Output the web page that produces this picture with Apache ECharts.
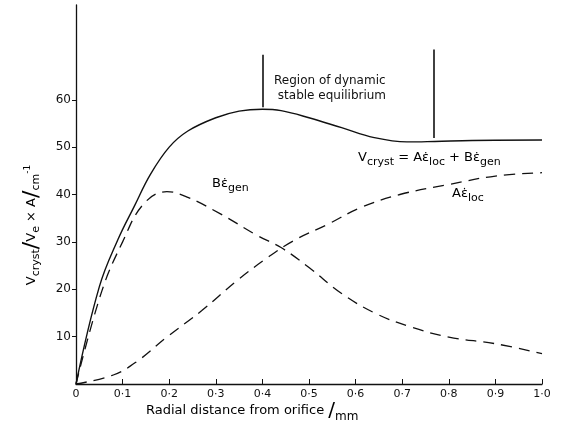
<!DOCTYPE html>
<html>
<head>
<meta charset="utf-8">
<script src="https://cdn.jsdelivr.net/npm/echarts@6/dist/echarts.min.js"></script>
<style>
  html, body { margin: 0; padding: 0; background: #fff; }
  #main { width: 561px; height: 428px; }
</style>
</head>
<body>
<div id="main"></div>
<script>
// total crystallisation velocity (solid)
const totalX = [0, 0.05, 0.09, 0.125, 0.16, 0.2, 0.24, 0.3, 0.35, 0.4, 0.44, 0.5, 0.57, 0.64, 0.71, 0.77, 0.85, 1.0];
const totalY = [0, 20.5, 30.5, 37.5, 44.3, 50, 53.4, 56.2, 57.6, 58, 57.7, 56.2, 54.1, 52, 51.1, 51.2, 51.4, 51.5];

// B * eps_gen (dashed, peaks near 0.2)
const genX = [0, 0.055, 0.1, 0.145, 0.195, 0.24, 0.31, 0.39, 0.44, 0.5, 0.57, 0.645, 0.72, 0.8, 0.9, 1.0];
const genY = [0, 19.5, 30, 38, 40.6, 39.4, 35.9, 31.3, 28.8, 24.6, 19.1, 14.8, 12, 9.9, 8.5, 6.4];

// A * eps_loc (dashed, rising)
const locX = [0, 0.08, 0.13, 0.195, 0.27, 0.345, 0.41, 0.466, 0.54, 0.61, 0.695, 0.8, 0.9, 1.0];
const locY = [0, 1.9, 4.7, 9.9, 15.5, 21.8, 26.6, 30.2, 33.7, 37.2, 40, 42.1, 43.9, 44.6];

// region of dynamic stable equilibrium: [x, yFrom, yTo]
const regionBars = [[0.4, 58.4, 69.5], [0.768, 51.9, 70.6]];

const yTicks = [10, 20, 30, 40, 50, 60];

const font = 'DejaVu Sans';
const ink = '#111';

function pairs(xs, ys) {
    return xs.map((x, i) => [x, ys[i]]);
}

function fmtX(v) {
    if (v === 0) return '0';
    return v.toFixed(1).replace('.', '·');
}

const chart = echarts.init(document.getElementById('main'), null, { renderer: 'canvas' });

const subStyle = { fontFamily: font, fontSize: 11, color: ink, padding: [9, 0, 0, 0] };
const supStyle = { fontFamily: font, fontSize: 9, color: ink, padding: [0, 0, 9, 0] };
const normStyle = { fontFamily: font, fontSize: 13, color: ink };

const option = {
    backgroundColor: '#fff',
    animation: false,
    grid: { left: 76, right: 19, top: 5, bottom: 44 },
    xAxis: {
        type: 'value',
        min: 0,
        max: 1.0,
        interval: 0.1,
        splitLine: { show: false },
        axisLine: { lineStyle: { color: ink, width: 1.3 } },
        axisTick: { inside: true, length: 5, lineStyle: { color: ink } },
        axisLabel: {
            formatter: fmtX,
            color: ink,
            fontFamily: font,
            fontSize: 11,
            margin: 5
        }
    },
    yAxis: {
        type: 'value',
        min: 0,
        max: 80,
        interval: 10,
        splitLine: { show: false },
        axisLine: { show: true, lineStyle: { color: ink, width: 1.3 } },
        axisTick: { show: true, customValues: yTicks, length: 4, lineStyle: { color: ink } },
        axisLabel: {
            customValues: yTicks,
            color: ink,
            fontFamily: font,
            fontSize: 12,
            margin: 5
        }
    },
    series: [
        {
            name: 'total',
            type: 'line',
            smooth: 0.4,
            symbol: 'none',
            data: pairs(totalX, totalY),
            lineStyle: { color: ink, width: 1.4 },
            markLine: {
                silent: true,
                symbol: 'none',
                label: { show: false },
                lineStyle: { color: ink, width: 1.6, type: 'solid' },
                data: regionBars.map(b => [{ coord: [b[0], b[1]] }, { coord: [b[0], b[2]] }])
            }
        },
        {
            name: 'gen',
            type: 'line',
            smooth: 0.4,
            symbol: 'none',
            data: pairs(genX, genY),
            lineStyle: { color: ink, width: 1.3, type: [11, 7] }
        },
        {
            name: 'loc',
            type: 'line',
            smooth: 0.4,
            symbol: 'none',
            data: pairs(locX, locY),
            lineStyle: { color: ink, width: 1.3, type: [11, 7] }
        }
    ],
    graphic: [
        {
            type: 'text',
            left: 274, top: 73,
            style: {
                text: 'Region of dynamic\n stable equilibrium',
                font: '12px "DejaVu Sans"',
                fill: ink,
                lineHeight: 15
            }
        },
        {
            type: 'text',
            x: 212, y: 184,
            style: {
                text: '{n|Bε̇}{s|gen}',
                verticalAlign: 'middle',
                rich: { n: normStyle, s: subStyle }
            }
        },
        {
            type: 'text',
            x: 452, y: 194,
            style: {
                text: '{n|Aε̇}{s|loc}',
                verticalAlign: 'middle',
                rich: { n: normStyle, s: subStyle }
            }
        },
        {
            type: 'text',
            x: 358, y: 158,
            style: {
                text: '{n|V}{s|cryst}{n| = Aε̇}{s|loc}{n| + Bε̇}{s|gen}',
                verticalAlign: 'middle',
                rich: { n: normStyle, s: subStyle }
            }
        },
        {
            type: 'text',
            x: 146, y: 411,
            style: {
                text: '{n|Radial distance from orifice }{b|/}{s|mm}',
                verticalAlign: 'middle',
                rich: {
                    n: { fontFamily: font, fontSize: 13, color: ink },
                    b: { fontFamily: font, fontSize: 20, color: ink },
                    s: { fontFamily: font, fontSize: 12, color: ink, padding: [12, 0, 0, 0] }
                }
            }
        },
        {
            type: 'text',
            x: 32, y: 225,
            rotation: Math.PI / 2,
            style: {
                text: '{n|V}{s|cryst}{b|/}{n|V}{s|e}{n| × A}{b|/}{s|cm}{p|-1}',
                align: 'center',
                verticalAlign: 'middle',
                rich: {
                    n: normStyle,
                    s: subStyle,
                    p: supStyle,
                    b: { fontFamily: font, fontSize: 22, color: ink }
                }
            }
        }
    ]
};

chart.setOption(option);
</script>
</body>
</html>
